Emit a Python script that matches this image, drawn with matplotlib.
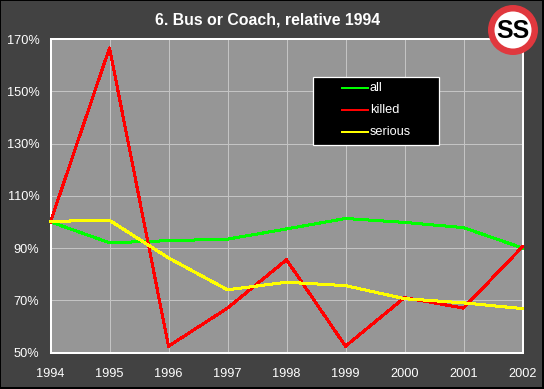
import matplotlib
matplotlib.use('Agg')
import matplotlib.pyplot as plt
from matplotlib.patches import Circle, Rectangle

plt.rcParams['font.family'] = ['Liberation Sans', 'DejaVu Sans']

# Valeurs (% par rapport a 1994)
years = [1994, 1995, 1996, 1997, 1998, 1999, 2000, 2001, 2002]
all_cas = [100, 92, 92.8, 93.4, 97.3, 101.3, 99.8, 97.8, 90]
killed = [100, 166.6, 52.4, 67, 85.5, 52.4, 71, 67, 90.5]
serious = [100.2, 100.6, 86.2, 74, 76.9, 75.6, 70.6, 69, 66.8]
y_ticks = [50, 70, 90, 110, 130, 150, 170]
legend_names = ['all', 'killed', 'serious']
colors = ['#00ff00', '#ff0000', '#ffff00']

W, H = 544, 389
fig = plt.figure(figsize=(W / 100, H / 100), dpi=100, facecolor='#424242')

# zone de tracé
ax = fig.add_axes([50.5 / W, 1 - 352.5 / H, 472 / W, 313.5 / H], facecolor='#969696')
for values, col in zip([all_cas, killed, serious], colors):
    ax.plot(years, values, color=col, lw=1.45, antialiased=False, clip_on=False, zorder=4)

ax.set_xlim(1994, 2002)
ax.set_ylim(50, 170)
ax.set_xticks(years)
ax.set_yticks(y_ticks)
ax.set_yticklabels([f'{v}%' for v in y_ticks])
ax.grid(True, color='#c4c4c4', lw=0.75)
ax.set_axisbelow(True)
ax.tick_params(length=0, colors='white', labelsize=9.2)
ax.tick_params(axis='x', pad=11)
ax.tick_params(axis='y', pad=8)
for s in ax.spines.values():
    s.set_color('white')
    s.set_linewidth(1.45)
    s.set_zorder(3)

# calque en pixels : titre, légende, pastille
over = fig.add_axes([0, 0, 1, 1], facecolor='none')
over.set_xlim(0, W)
over.set_ylim(H, 0)
over.axis('off')

# bord noir : 1 px en haut et à gauche, 2 px en bas et à droite
over.add_patch(Rectangle((0, 0), W, 1, fc='black', ec='none'))
over.add_patch(Rectangle((0, 0), 1, H, fc='black', ec='none'))
over.add_patch(Rectangle((0, H - 2), W, 2, fc='black', ec='none'))
over.add_patch(Rectangle((W - 2, 0), 2, H, fc='black', ec='none'))

over.text(268, 20, '6. Bus or Coach, relative 1994', color='white', fontsize=11.4,
          fontweight='bold', ha='center', va='center')

over.add_patch(Rectangle((312.5, 76.5), 126, 68, fc='black', ec='white', lw=0.9))
for name, col, ly in zip(legend_names, colors, [88, 110, 132]):
    over.plot([342, 368], [ly, ly], color=col, lw=1.1, antialiased=False)
    over.text(370, ly, name, color='white', fontsize=9.2, va='center', ha='left')

over.add_patch(Circle((513, 30), 25, fc='#e0383e', ec='none'))
over.add_patch(Circle((513, 30), 18.5, fc='white', ec='none'))
over.text(513, 30.5, 'SS', color='black', fontsize=18, fontweight='bold', ha='center', va='center')

fig.savefig('out.png', dpi=100, facecolor=fig.get_facecolor())
